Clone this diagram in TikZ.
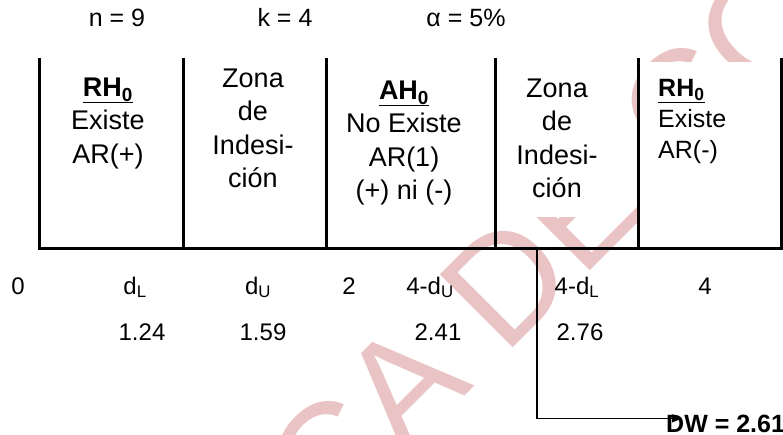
\documentclass[tikz,border=0pt]{standalone}
\usepackage{fontspec}
\setmainfont{Liberation Sans}
\usetikzlibrary{arrows.meta}
\definecolor{wmpink}{RGB}{234,196,196}
\begin{document}
\begin{tikzpicture}[x=1pt,y=-1pt,
  bar/.style={line width=3pt},
  cell/.style={inner sep=0pt, align=center, anchor=north, font=\fontsize{27}{33.5}\selectfont},
  cellleft/.style={inner sep=0pt, align=left, anchor=north west, font=\fontsize{25}{31}\selectfont},
  lab/.style={inner sep=0pt, anchor=base, font=\fontsize{24}{28}\selectfont},
  toplab/.style={inner sep=0pt, anchor=base, font=\fontsize{25}{28}\selectfont},
  wmtext/.style={inner sep=0pt, text=wmpink, font=\fontsize{150}{150}\selectfont},
  conn/.style={line width=1.3pt, -{Triangle[length=10pt,width=8pt]}}]
\useasboundingbox (0,0) rectangle (783,435);
\clip (0,0) rectangle (783,435);
% watermark
\node[wmtext, rotate=45] (wm) at (548,240) {CA DE CO};
\fill[white] (498,62) rectangle (615,217);
\fill[white] (640,62) rectangle (780,247);
% frame
\draw[bar] (39,58) -- (39,249) -- (783,249);
\foreach \x in {183,326,495,638,781} \draw[bar] (\x,58) -- (\x,249);
% top labels
\node[toplab] (n) at (117,27) {n = 9};
\node[toplab] (k) at (285,27) {k = 4};
\node[toplab] (a) at (466,27) {α = 5\%};
% cells
\node[cell] (c1) at (108,77.7) {\underline{\textbf{RH\textsubscript{0}}}\\Existe\\AR(+)};
\node[cell] (c2) at (253,68.7) {Zona\\de\\Indesi-\\ción};
\node[cell] (c3) at (404,80.7) {\underline{\textbf{AH\textsubscript{0}}}\\No Existe\\AR(1)\\(+) ni (-)};
\node[cell] (c4) at (557,78.7) {Zona\\de\\Indesi-\\ción};
\node[cellleft] (c5) at (658,79) {\underline{\textbf{RH\textsubscript{0}}}\\Existe\\AR(-)};
% bottom labels
\node[lab] (l0) at (18,294) {0};
\node[lab] (l1) at (135,294) {d\textsubscript{L}};
\node[lab] (l2) at (258,294) {d\textsubscript{U}};
\node[lab] (l3) at (349,294) {2};
\node[lab] (l4) at (430,294) {4-d\textsubscript{U}};
\node[lab] (l5) at (577,294) {4-d\textsubscript{L}};
\node[lab] (l6) at (705,294) {4};
\node[lab] (v1) at (142,340) {1.24};
\node[lab] (v2) at (263,340) {1.59};
\node[lab] (v3) at (438,340) {2.41};
\node[lab] (v4) at (580,340) {2.76};
% DW
\node[inner sep=0pt, anchor=base west, font=\fontsize{25}{28}\selectfont\bfseries] (dw) at (666,432) {DW = 2.61};
\coordinate (s) at (537,249);
\draw[conn] (s) |- ([xshift=16pt,yshift=5pt]dw.west);
\end{tikzpicture}
\end{document}
